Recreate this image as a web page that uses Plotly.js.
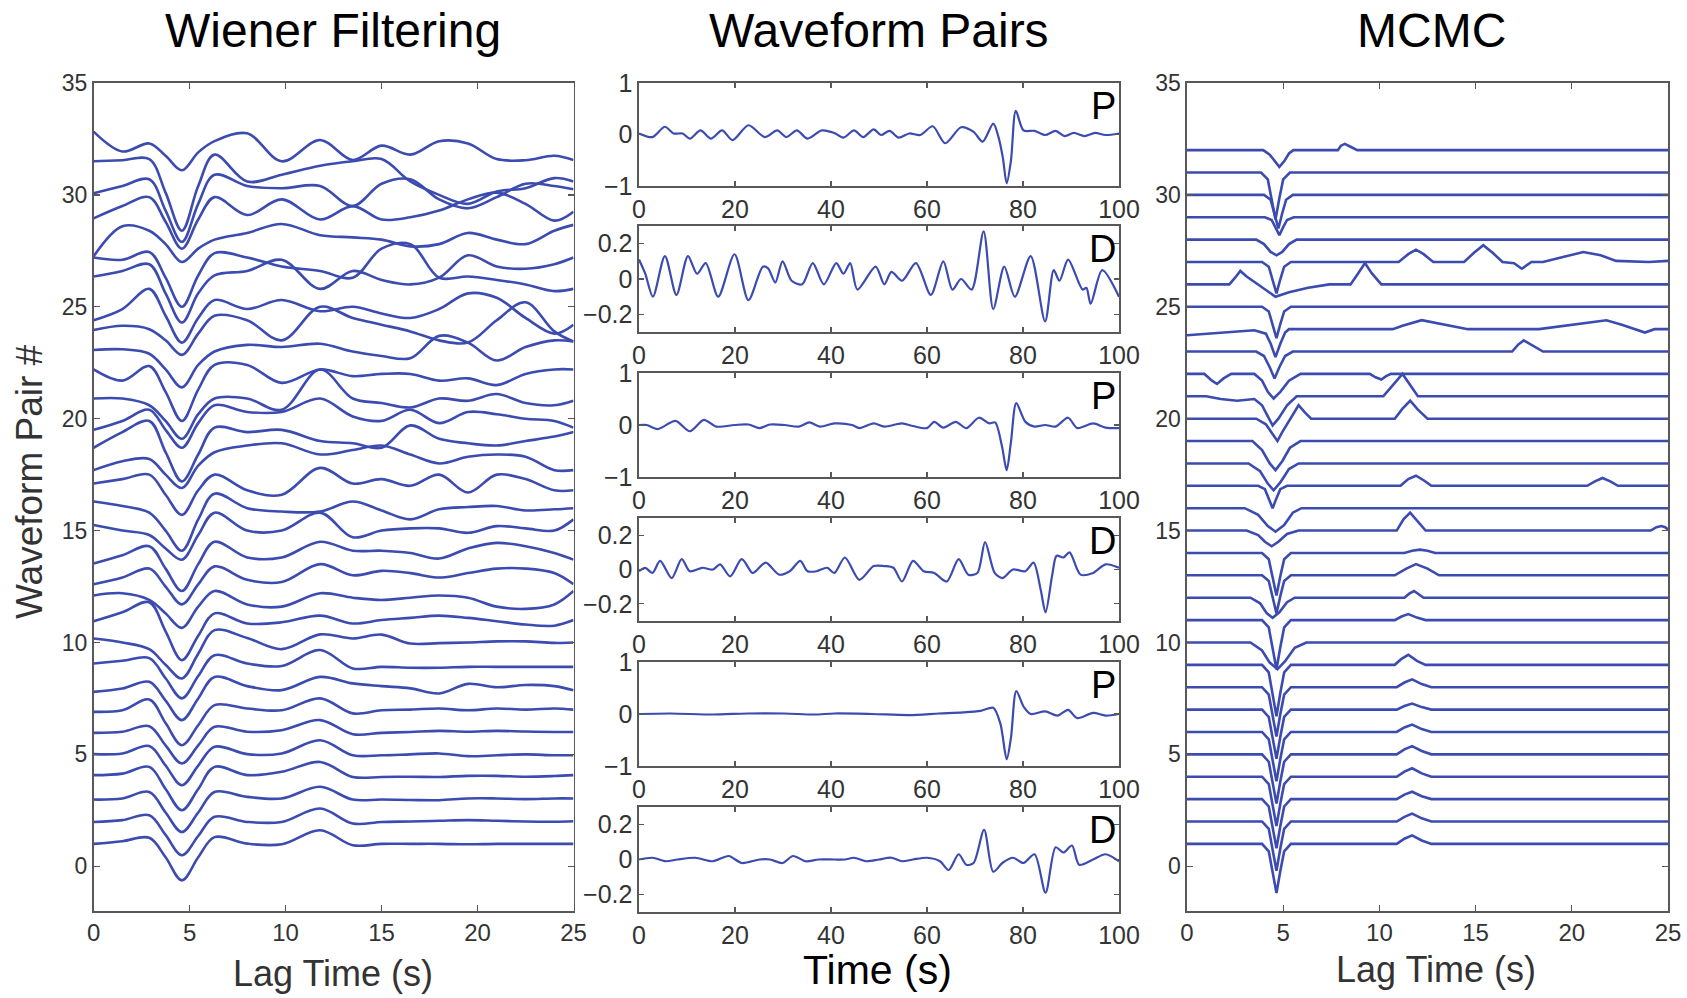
<!DOCTYPE html>
<html><head><meta charset="utf-8">
<script src="https://cdn.plot.ly/plotly-3.0.1.min.js"></script>
<style>html,body{margin:0;padding:0;background:#fff}#chart{width:1687px;height:998px}</style>
</head><body><div id="chart"></div>
<script>
// ---------- Wiener Filtering panel (lag time knots, one array per waveform pair) ----------
const lagKnots = [0, 1.5, 2.9, 3.75, 4.6, 5.45, 6.3, 8, 9.8, 11.8, 13.5, 15, 16.5, 18, 19.5, 21, 22.5, 24, 25];
const wienerPairs = [
  [1.0, 1.12, 1.27, 0.4, -0.63, 0.4, 1.3, 1.01, 0.98, 1.61, 0.94, 1.0, 1.0, 1.0, 0.98, 1.0, 1.0, 1.0, 1.0],
  [1.98, 2.06, 2.28, 1.4, 0.49, 1.35, 2.21, 1.98, 1.98, 2.58, 1.91, 1.98, 2.0, 2.03, 2.06, 2.03, 2.0, 1.99, 2.01],
  [2.98, 3.03, 3.32, 2.4, 1.53, 2.4, 3.32, 3.1, 3.03, 3.55, 2.98, 2.98, 2.96, 2.95, 3.03, 3.03, 3.0, 3.03, 3.03],
  [4.07, 4.14, 4.44, 3.45, 2.5, 3.45, 4.44, 4.07, 4.22, 4.66, 3.99, 3.99, 4.0, 3.99, 4.04, 4.04, 4.0, 4.03, 4.07],
  [5.01, 5.04, 5.37, 4.5, 3.62, 4.5, 5.34, 5.01, 5.04, 5.63, 4.96, 4.96, 5.0, 5.04, 4.92, 4.96, 5.0, 4.96, 4.96],
  [5.96, 6.01, 6.26, 5.4, 4.59, 5.4, 6.23, 6.01, 6.08, 6.53, 5.9, 5.96, 6.0, 6.05, 6.01, 6.05, 6.02, 6.0, 6.0],
  [6.9, 6.97, 7.45, 6.4, 5.41, 6.3, 7.2, 7.05, 6.97, 7.5, 6.83, 6.97, 7.0, 7.05, 6.97, 7.05, 7.0, 7.05, 7.0],
  [7.79, 7.94, 8.24, 7.4, 6.53, 7.5, 8.46, 8.05, 7.87, 8.46, 8.17, 8.05, 7.95, 7.72, 8.15, 8.0, 8.1, 8.05, 7.86],
  [9.06, 9.18, 9.3, 8.4, 7.5, 8.5, 9.43, 9.06, 8.95, 9.66, 8.84, 8.91, 8.87, 8.87, 8.91, 8.91, 8.91, 8.91, 8.91],
  [10.18, 10.0, 9.7, 9.0, 8.39, 9.5, 10.55, 10.2, 9.7, 10.36, 10.18, 10.35, 9.95, 9.97, 10.0, 10.05, 10.05, 9.98, 10.0],
  [10.95, 11.35, 11.8, 10.5, 9.21, 10.3, 11.3, 10.85, 10.9, 11.2, 10.85, 11.0, 11.1, 11.2, 11.1, 10.95, 10.8, 10.75, 11.0],
  [12.1, 12.2, 11.9, 11.3, 10.65, 11.6, 12.3, 11.7, 11.6, 12.2, 12.0, 11.9, 12.0, 12.1, 12.0, 11.6, 11.5, 11.7, 12.3],
  [12.6, 12.9, 13.3, 12.5, 11.7, 12.6, 13.4, 12.8, 12.7, 13.5, 13.0, 13.2, 13.1, 12.9, 13.1, 13.3, 13.3, 13.1, 12.6],
  [13.53, 13.9, 14.3, 13.3, 12.3, 13.5, 14.5, 13.8, 13.8, 14.5, 14.1, 14.1, 14.0, 13.75, 14.2, 14.45, 14.3, 14.0, 13.7],
  [15.25, 15.0, 14.8, 14.2, 13.7, 14.8, 15.8, 15.0, 15.0, 15.8, 14.7, 15.0, 15.1, 15.1, 14.9, 15.2, 15.1, 15.0, 15.5],
  [16.3, 16.1, 15.8, 15.0, 14.1, 15.5, 16.65, 16.0, 15.85, 15.85, 16.3, 15.9, 15.5, 15.95, 16.05, 16.1, 15.9, 15.95, 16.0],
  [17.1, 17.3, 17.5, 16.6, 15.7, 16.8, 17.5, 16.8, 16.6, 17.8, 17.1, 17.3, 17.0, 17.5, 16.7, 17.5, 17.3, 16.8, 16.8],
  [17.7, 18.1, 18.2, 17.5, 16.9, 17.9, 18.5, 18.8, 18.9, 18.4, 18.6, 18.8, 18.4, 18.0, 18.3, 18.4, 18.3, 17.7, 17.7],
  [18.7, 19.4, 19.9, 18.5, 17.2, 18.4, 19.6, 19.4, 19.5, 19.0, 18.9, 18.7, 19.7, 19.1, 18.9, 18.8, 19.0, 19.2, 19.4],
  [19.5, 19.9, 20.4, 19.5, 18.7, 19.8, 20.6, 20.3, 20.3, 20.9, 20.1, 19.9, 20.4, 19.8, 20.3, 20.2, 20.0, 19.9, 19.6],
  [20.9, 20.9, 20.6, 19.9, 19.1, 20.2, 20.9, 20.9, 20.4, 22.2, 20.9, 20.7, 20.5, 20.9, 20.8, 21.1, 20.7, 20.6, 20.8],
  [22.2, 21.7, 22.35, 21.2, 19.9, 21.3, 22.4, 22.4, 21.6, 22.2, 21.9, 22.0, 22.0, 21.7, 21.8, 21.5, 22.0, 22.2, 22.2],
  [23.07, 23.1, 22.9, 22.2, 21.4, 22.4, 23.0, 23.3, 23.2, 23.35, 23.0, 22.8, 22.7, 23.7, 23.4, 22.6, 23.2, 23.5, 23.45],
  [23.96, 24.15, 24.0, 23.5, 22.85, 23.8, 24.6, 24.4, 23.5, 25.0, 24.5, 24.2, 23.9, 23.5, 23.4, 24.4, 25.2, 23.9, 23.45],
  [24.4, 24.9, 25.8, 24.6, 23.4, 24.5, 25.3, 24.9, 25.3, 24.8, 25.0, 24.7, 24.5, 24.9, 25.6, 25.4, 24.5, 23.8, 24.2],
  [26.35, 26.6, 26.9, 25.6, 24.3, 25.6, 26.4, 26.6, 27.1, 25.8, 26.6, 26.2, 26.0, 26.3, 27.3, 26.8, 26.7, 26.9, 27.2],
  [27.2, 27.1, 27.45, 26.3, 25.0, 26.4, 27.4, 27.2, 26.8, 26.6, 26.3, 27.6, 27.8, 26.3, 26.35, 26.2, 26.0, 25.7, 25.8],
  [27.25, 28.6, 28.4, 27.8, 27.0, 27.6, 28.0, 28.3, 28.7, 28.2, 28.1, 28.0, 27.7, 27.8, 28.3, 28.0, 27.8, 28.4, 28.66],
  [28.95, 29.5, 29.9, 28.8, 27.6, 28.9, 29.9, 29.1, 29.8, 28.9, 29.5, 28.9, 29.0, 29.3, 29.8, 30.1, 29.6, 28.85, 29.25],
  [30.07, 30.4, 30.7, 29.3, 27.9, 29.6, 30.9, 30.4, 30.3, 30.4, 29.5, 30.5, 30.7, 29.8, 29.4, 29.9, 30.5, 30.4, 30.25],
  [31.5, 31.55, 31.6, 30.1, 28.4, 30.4, 31.8, 30.6, 30.9, 31.3, 31.5, 31.6, 30.6, 30.0, 29.6, 30.15, 30.3, 30.75, 30.6],
  [32.83, 31.94, 32.3, 31.75, 31.1, 31.9, 32.4, 32.75, 31.5, 32.45, 31.56, 32.2, 31.8, 32.4, 32.3, 31.6, 31.55, 31.75, 31.56]
];

// ---------- Waveform Pairs panels ----------
const pairTimeP1 = [0,2.8,5.4,7.2,9.1,10.6,12.8,15,17.3,19.5,22.8,26.2,28.8,30.7,32.9,35.1,38.1,40.7,42.6,44.8,46.7,48.9,50.4,52.2,54.1,56.3,58.6,61.2,63.8,67.1,69.7,71.6,73.8,74.9,75.8,76.6,77.5,78.5,80.1,82.4,84.6,86.8,88.7,90.6,92.8,95,97.2,100];
const pairAmpP1  = [0.02,-0.05,0.15,0.02,0.02,-0.08,0.08,-0.08,0.08,-0.11,0.18,-0.05,0.08,-0.05,0.08,-0.08,0.08,0.03,-0.06,0.08,-0.05,0.1,-0.01,0.07,-0.06,0.02,-0.01,0.16,-0.17,0.14,0.05,-0.14,0.21,-0.05,-0.45,-0.95,-0.5,0.46,0.08,0.07,-0.01,0.07,-0.03,0.03,-0.03,0.03,-0.01,0.02];
const pairTimeD1 = [0,1.3,2.9,5.4,7.8,10.2,12.1,13.9,16.5,19.9,22.8,25.8,26.9,28.4,29.9,31.8,34,36.2,38.5,41.1,42.6,44,45.5,49.3,51.1,52.6,54.8,57.7,60.8,63.4,65.3,67.1,69.3,71.8,73.8,76.1,78.3,81.6,84.6,86.4,87.6,89.4,92.4,93.2,94.1,96.5,100];
const pairAmpD1  = [0.11,0.03,-0.10,0.13,-0.09,0.13,0.03,0.09,-0.10,0.14,-0.12,0.07,0.06,-0.02,0.10,-0.01,-0.03,0.09,-0.03,0.09,0.03,0.09,-0.06,0.07,-0.03,0.04,-0.01,0.09,-0.09,0.10,-0.06,0.0,-0.06,0.27,-0.17,0.07,-0.10,0.13,-0.24,0.05,-0.01,0.11,-0.06,-0.05,-0.14,0.05,-0.10];
const pairTimeP2 = [0,1.6,3.9,7.6,10.6,13.5,16.1,19.9,22.8,25.1,27.3,30.3,33.3,35.5,37.7,40.7,44.4,45.9,48.9,51.1,54.8,57.1,60,61.5,63.4,66,68.2,70.8,73,74.2,75.6,76.6,77.5,78.6,80.5,82.4,84.6,86.8,89.4,91.3,94.6,97.2,100];
const pairAmpP2  = [0,0,-0.08,0.08,-0.12,0.1,-0.03,0,0.01,-0.06,0.01,0,-0.03,0.05,-0.03,0.03,0,-0.06,0.03,-0.03,0.03,-0.02,-0.06,0.06,-0.05,0.06,-0.06,0.14,0.03,0.05,-0.4,-0.87,-0.32,0.42,0.06,-0.03,0,-0.03,0.14,-0.06,0.03,-0.05,-0.06];
const pairTimeD2 = [0,1.3,2.8,4.4,6.8,8.9,10.6,13.2,15.4,16.9,19,21.4,23.6,24.3,26.4,29.2,31.4,33.6,35.1,37,39.2,40.7,42.9,45.9,48.9,51.1,53,54.8,57.1,59.3,61.5,64.1,66.6,68.6,70.5,72.1,74.1,75.7,77.9,80.5,82.2,83.7,84.7,86.1,87,88.4,89.7,92,94.6,97.2,100];
const pairAmpD2  = [-0.01,0.01,-0.02,0.05,-0.05,0.06,-0.01,0.01,0,0.03,-0.04,0.06,-0.02,-0.01,0.04,-0.03,-0.01,0.05,-0.01,-0.01,0.01,-0.02,0.07,-0.06,0.02,0.02,0.01,-0.07,0.05,-0.01,-0.02,-0.07,0.06,-0.03,-0.02,0.16,-0.02,-0.05,0,-0.01,0.04,-0.12,-0.25,-0.03,0.08,0.07,0.10,-0.03,-0.02,0.03,0.01];
const pairTimeP3 = [0,6.5,15.4,22.5,30.3,36.5,40.7,48.5,56.3,62.5,67.5,71.2,73.8,75.3,76.6,77.5,78.6,80.2,81.6,84.6,87.2,89.4,91.3,94.6,97.2,100];
const pairAmpP3  = [0,0.01,-0.01,0.01,0.01,-0.01,0.01,0.0,-0.02,0.01,0.03,0.06,0.12,-0.19,-0.87,-0.45,0.44,0.13,0,0.05,-0.03,0.08,-0.08,0.02,-0.03,0];
const pairTimeD3 = [0,2.8,5.6,8,11.7,15.4,18.7,21.4,25.1,27.3,29.9,32.1,34.7,37.4,40.7,42.9,44.8,47.4,50,52.6,54.8,57.1,60,62.7,64.5,66.6,68.2,69.7,71.9,73.8,75.7,77.9,80.1,82.4,84.7,86.8,88.4,90.2,91.7,94.6,97.2,100];
const pairAmpD3  = [0,0.01,-0.01,0,0.01,-0.01,0.02,-0.02,0,0,-0.02,0.02,-0.01,0,0,0,0.01,-0.01,0,0.01,-0.01,0,0.01,-0.01,-0.06,0.03,-0.03,-0.02,0.17,-0.07,-0.02,0.01,-0.02,0.03,-0.19,0.07,0.04,0.08,-0.03,0,0.03,-0.01];
const pairLabels = ['P','D','P','D','P','D'];
const pairTickP = [-1, 0, 1], pairTickTextP = ['\u22121', '0', '1'];
const pairTickD = [-0.2, 0, 0.2], pairTickTextD = ['\u22120.2', '0', '0.2'];

// ---------- MCMC panel (one lag array and one value array per waveform pair) ----------
const mcmcLag = [
  [0,3.9,4.25,4.45,4.65,4.85,5.05,5.4,10.9,11.3,11.7,12.2,12.7,25],
  [0,3.9,4.25,4.45,4.65,4.85,5.05,5.4,10.9,11.3,11.7,12.2,12.7,25],
  [0,3.9,4.25,4.45,4.65,4.85,5.05,5.4,10.9,11.3,11.7,12.2,12.7,25],
  [0,3.9,4.25,4.45,4.65,4.85,5.05,5.4,10.9,11.3,11.7,12.2,12.7,25],
  [0,3.9,4.25,4.45,4.65,4.85,5.05,5.4,10.9,11.3,11.7,12.2,12.7,25],
  [0,3.9,4.25,4.45,4.65,4.85,5.05,5.4,10.9,11.3,11.7,12.2,12.7,25],
  [0,3.9,4.25,4.45,4.65,4.85,5.05,5.4,10.9,11.3,11.7,12.2,12.7,25],
  [0,3.9,4.25,4.45,4.65,4.85,5.05,5.4,10.9,11.3,11.7,12.2,12.7,25],
  [0,3.9,4.25,4.45,4.65,4.85,5.05,5.4,10.8,11.15,11.5,11.95,12.4,25],
  [0,3.3,3.9,4.3,4.7,5.1,5.6,6.2,25],
  [0,3.9,4.25,4.45,4.65,4.85,5.05,5.4,10.8,11.15,11.5,11.95,12.4,25],
  [0,3.3,3.8,4.15,4.45,4.8,5.2,5.6,11.3,11.55,11.8,12.05,12.3,25],
  [0,3.9,4.25,4.45,4.65,4.85,5.05,5.4,10.8,11.4,11.9,12.5,13.1,25],
  [0,3.9,4.25,4.45,4.65,4.85,5.05,5.4,11.3,11.7,12.1,12.5,12.9,25],
  [0,3.1,3.7,4.05,4.4,4.75,5.2,5.8,10.9,11.25,11.6,12.0,12.4,24.1,24.4,24.65,24.85,25],
  [0,3.0,3.7,4.2,4.6,5.05,5.5,5.95,25],
  [0,3.7,4.05,4.25,4.45,4.65,4.85,5.2,11.1,11.5,11.9,12.3,12.7,20.8,21.2,21.6,22.0,22.4,25],
  [0,3.2,3.8,4.2,4.5,4.85,5.3,5.8,25],
  [0,3.4,3.9,4.3,4.6,4.95,5.35,5.9,25],
  [0,3.6,4.1,4.45,4.7,4.95,5.3,5.55,5.8,6.1,6.45,10.8,11.2,11.6,12.0,12.5,25],
  [0,1.0,1.75,2.6,3.5,3.9,4.2,4.45,4.75,5.2,5.7,10.2,10.6,11.2,11.6,12.0,25],
  [0,0.9,1.3,1.56,1.9,2.3,3.5,3.9,4.2,4.5,4.85,5.3,5.9,9.5,9.8,10.1,10.35,10.6,25],
  [0,3.6,4.0,4.3,4.55,4.8,5.1,5.5,16.9,17.2,17.5,17.9,18.5,25],
  [0,3.5,4.1,4.35,4.6,4.85,5.1,5.3,10.7,11.2,12.2,13.4,14.6,18.3,20.0,21.8,22.6,23.3,23.8,24.3,25],
  [0,3.9,4.25,4.45,4.65,4.85,5.05,5.4,25],
  [0,2.2,2.5,2.77,3.1,3.5,4.0,4.6,5.3,6.3,7.4,8.5,8.9,9.25,9.6,10.1,25],
  [0,3.9,4.25,4.45,4.65,4.85,5.05,5.4,11.0,11.5,11.9,12.3,12.8,14.4,14.9,15.4,15.9,16.4,17.0,17.4,17.9,18.5,19.5,20.6,21.5,22.3,24.0,25],
  [0,3.6,4.0,4.35,4.65,4.95,5.3,5.7,25],
  [0,4.05,4.4,4.6,4.8,5.0,5.2,5.55,25],
  [0,4.0,4.35,4.55,4.75,4.95,5.15,5.5,25],
  [0,3.85,4.2,4.4,4.6,4.8,5.0,5.35,25],
  [0,3.96,4.3,4.6,4.8,5.05,5.3,5.53,7.84,8.0,8.2,8.5,8.85,25]
];
const mcmcPair = [
  [1,1,0.67,-0.21,-1.2,-0.21,0.67,1,1,1.23,1.38,1.15,1,1],
  [2,2,1.67,0.79,-0.2,0.79,1.67,2,2,2.21,2.35,2.14,2,2],
  [3,3,2.67,1.79,0.8,1.79,2.67,3,3,3.2,3.33,3.13,3,3],
  [4,4,3.67,2.79,1.8,2.79,3.67,4,4,4.23,4.38,4.15,4,4],
  [5,5,4.67,3.79,2.8,3.79,4.67,5,5,5.22,5.37,5.15,5,5],
  [6,6,5.67,4.79,3.8,4.79,5.67,6,6,6.2,6.33,6.13,6,6],
  [7,7,6.67,5.79,4.8,5.79,6.67,7,7,7.16,7.27,7.11,7,7],
  [8,8,7.67,6.79,5.8,6.79,7.67,8,8,8.21,8.35,8.14,8,8],
  [9,9,8.66,7.74,6.7,7.74,8.66,9,9,9.27,9.45,9.18,9,9],
  [10,10,9.64,9.1,8.8,9.16,9.76,10,10],
  [11,11,10.67,9.79,8.8,9.79,10.67,11,11,11.16,11.27,11.11,11,11],
  [12,12,11.75,11.3,11.1,11.35,11.8,12,12,12.18,12.3,12.15,12,12],
  [13,13,12.75,12.07,11.3,12.07,12.75,13,13,13.3,13.5,13.3,13,13],
  [14,14,13.72,12.96,12.1,12.96,13.72,14,14,14.1,14.15,14.1,14,14],
  [15,15,14.8,14.5,14.3,14.5,14.85,15,15,15.5,15.8,15.4,15,15,15.15,15.2,15.15,15.05],
  [16,16,15.7,15.2,14.95,15.25,15.8,16,16],
  [17,17,16.85,16.45,16.0,16.45,16.85,17,17,17.3,17.45,17.25,17,17,17.2,17.35,17.2,17,17],
  [18,18,17.65,17.1,16.8,17.15,17.75,18,18],
  [19,19,18.6,18.0,17.7,18.1,18.7,19,19],
  [20,20,19.75,19.3,19.0,19.4,19.9,20.3,20.6,20.3,20,20,20.45,20.8,20.4,20,20],
  [21,21,20.88,20.8,20.88,20.6,20.1,19.7,20.0,20.6,21,21,21.4,22.0,21.5,21,21],
  [22,22,21.7,21.55,21.8,22,22,21.7,21.2,20.9,21.2,21.7,22,22,21.85,21.75,21.9,22,22],
  [23,23,22.8,22.3,21.8,22.3,22.8,23,23,23.3,23.5,23.3,23,23],
  [23.73,23.95,23.8,23.35,22.75,23.35,23.85,24.0,24.0,24.15,24.4,24.2,24.0,24.0,24.2,24.4,24.2,24.0,23.85,24.0,24.0],
  [25,25,24.79,24.23,23.6,24.23,24.79,25,25],
  [26,26,26.3,26.6,26.35,26.1,25.8,25.45,25.65,25.85,26.0,26.0,26.5,26.95,26.5,26.0,26.0],
  [27,27,26.79,26.23,25.6,26.23,26.79,27,27,27.35,27.55,27.35,27,27,27.4,27.75,27.4,27,26.95,26.7,27.0,27.0,27.2,27.45,27.3,27.05,27.0,27.05],
  [28,28,27.8,27.45,27.3,27.45,27.8,28,28],
  [29,29,28.88,28.56,28.2,28.56,28.88,29,29],
  [30,30,29.78,29.18,28.5,29.18,29.78,30,30],
  [31,31,30.69,29.85,28.9,29.85,30.69,31,31],
  [32,32,31.8,31.45,31.25,31.5,31.85,32,32,32.2,32.28,32.15,32,32]
];
const stackTicks = [0, 5, 10, 15, 20, 25, 30, 35];
const lagTicks = [0, 5, 10, 15, 20, 25];
const timeTicks = [0, 20, 40, 60, 80, 100];

// ---------- figure ----------
const W = 1687, H = 998;
const BLUE = '#3b4bb0';
const TICKFONT = 'Liberation Sans, Arial, sans-serif';
const TEXTFONT = 'Liberation Sans, Arial, sans-serif';
const px2x = p => p / W;
const px2y = p => 1 - p / H;

function axisBase(extra) {
  return Object.assign({
    showgrid: false, zeroline: false, showline: true, linecolor: '#585858', linewidth: 1.6,
    mirror: 'ticks', ticks: 'inside', ticklen: 6, tickwidth: 1.3, tickcolor: '#585858',
    fixedrange: true
  }, extra);
}

const traces = [];
const layout = {
  width: W, height: H, margin: {l: 0, r: 0, t: 0, b: 0},
  paper_bgcolor: '#fff', plot_bgcolor: '#fff', showlegend: false,
  annotations: []
};

// Left panel
wienerPairs.forEach(ys => traces.push({
  x: lagKnots, y: ys, xaxis: 'x', yaxis: 'y', mode: 'lines',
  line: {color: BLUE, width: 2.6, shape: 'spline', smoothing: 1}, hoverinfo: 'skip'
}));
layout.xaxis = axisBase({domain: [px2x(93.6), px2x(573.5)], range: [0, 25], tickvals: lagTicks, anchor: 'y',
  tickfont: {family: TICKFONT, size: 24, color: '#333'}});
layout.yaxis = axisBase({domain: [px2y(911), px2y(83)], range: [-2, 35], tickvals: stackTicks, anchor: 'x',
  tickfont: {family: TICKFONT, size: 23, color: '#333'}});

// Middle panels
const pairT = [pairTimeP1, pairTimeD1, pairTimeP2, pairTimeD2, pairTimeP3, pairTimeD3];
const pairA = [pairAmpP1, pairAmpD1, pairAmpP2, pairAmpD2, pairAmpP3, pairAmpD3];
const panelTop = [83, 226, 373, 518, 662, 807];
const panelBot = [186, 332, 477, 621, 766, 912];
for (let i = 0; i < 6; i++) {
  const n = i + 2;
  traces.push({
    x: pairT[i], y: pairA[i], xaxis: 'x' + n, yaxis: 'y' + n, mode: 'lines',
    line: {color: BLUE, width: 2.2, shape: 'spline', smoothing: 0.8}, hoverinfo: 'skip'
  });
  const isP = pairLabels[i] === 'P';
  layout['xaxis' + n] = axisBase({domain: [px2x(639), px2x(1119)], range: [0, 100], tickvals: timeTicks,
    anchor: 'y' + n, tickfont: {family: TICKFONT, size: 25, color: '#333'}, ticklen: 5});
  layout['yaxis' + n] = axisBase({domain: [px2y(panelBot[i]), px2y(panelTop[i])],
    range: isP ? [-1, 1] : [-0.3, 0.3],
    tickvals: isP ? pairTickP : pairTickD, ticktext: isP ? pairTickTextP : pairTickTextD,
    anchor: 'x' + n, tickfont: {family: TICKFONT, size: 25, color: '#333'}, ticklen: 5});
  layout.annotations.push({text: pairLabels[i], xref: 'paper', yref: 'paper',
    x: px2x(1118), y: px2y(panelTop[i] + 23), xanchor: 'right', yanchor: 'middle', showarrow: false,
    font: {family: TEXTFONT, size: 38, color: '#000'}});
}

// Right panel
mcmcLag.forEach((xs, i) => traces.push({
  x: xs, y: mcmcPair[i], xaxis: 'x8', yaxis: 'y8', mode: 'lines',
  line: {color: BLUE, width: 2.6, shape: 'linear'}, hoverinfo: 'skip'
}));
layout.xaxis8 = axisBase({domain: [px2x(1187), px2x(1668)], range: [0, 25], tickvals: lagTicks, anchor: 'y8',
  tickfont: {family: TICKFONT, size: 24, color: '#333'}});
layout.yaxis8 = axisBase({domain: [px2y(911), px2y(83)], range: [-2, 35], tickvals: stackTicks, anchor: 'x8',
  tickfont: {family: TICKFONT, size: 23, color: '#333'}});

// Titles and axis labels
const txt = (text, xp, yp, size, color, extra) => Object.assign({text, xref: 'paper', yref: 'paper',
  x: px2x(xp), y: px2y(yp), xanchor: 'center', yanchor: 'middle', showarrow: false,
  font: {family: TEXTFONT, size, color}}, extra || {});
layout.annotations.push(txt('Wiener Filtering', 333, 30, 48, '#000'));
layout.annotations.push(txt('Waveform Pairs', 879, 30, 48, '#000'));
layout.annotations.push(txt('MCMC', 1431, 30, 48, '#000'));
layout.annotations.push(txt('Lag Time (s)', 333, 973, 36, '#333'));
layout.annotations.push(txt('Time (s)', 877, 970, 41, '#000'));
layout.annotations.push(txt('Lag Time (s)', 1436, 969, 36, '#333'));
layout.annotations.push(txt('Waveform Pair #', 30, 482, 37, '#333', {textangle: -90}));

Plotly.newPlot('chart', traces, layout, {displayModeBar: false, staticPlot: true});
</script>
</body></html>
